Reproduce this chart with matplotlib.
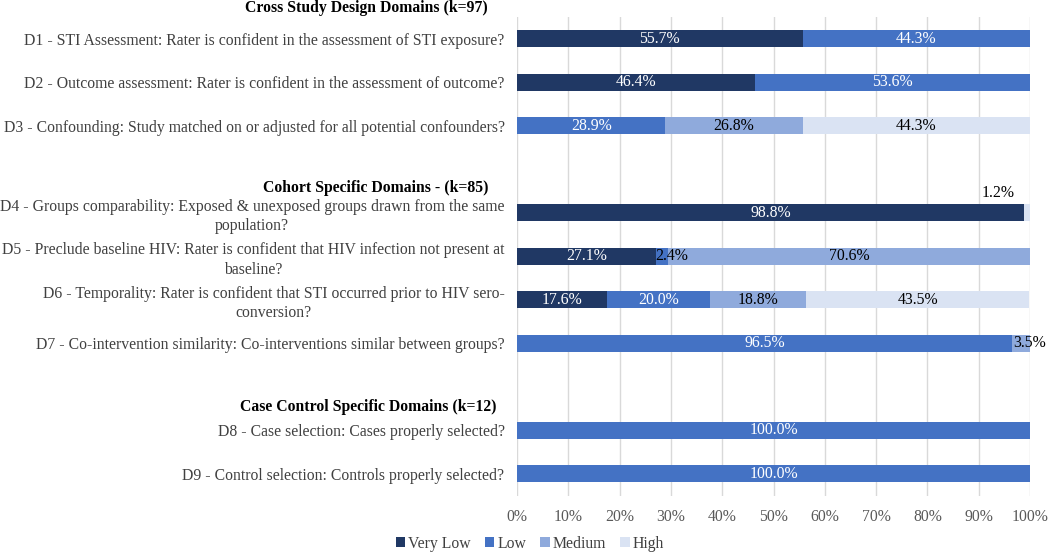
import numpy as np
import matplotlib
matplotlib.use('Agg')
import matplotlib.pyplot as plt
from matplotlib.patches import Patch
from matplotlib.ticker import PercentFormatter

plt.rcParams['font.family'] = ['Liberation Serif', 'DejaVu Serif']

# data
domains = [
    "D1 - STI Assessment: Rater is confident in the assessment of STI exposure?",
    "D2 - Outcome assessment: Rater is confident in the assessment of outcome?",
    "D3 - Confounding: Study matched on or adjusted for all potential confounders?",
    "D4 - Groups comparability: Exposed & unexposed groups drawn from the same\npopulation?",
    "D5 - Preclude baseline HIV: Rater is confident that HIV infection not present at\nbaseline?",
    "D6 - Temporality: Rater is confident that STI occurred prior to HIV sero-\nconversion?",
    "D7 - Co-intervention similarity: Co-interventions similar between groups?",
    "D8 - Case selection: Cases properly selected?",
    "D9 - Control selection: Controls properly selected?",
]
very_low = [55.7, 46.4, 0.0, 98.8, 27.1, 17.6, 0.0, 0.0, 0.0]
low = [44.3, 53.6, 28.9, 0.0, 2.4, 20.0, 96.5, 100.0, 100.0]
medium = [0.0, 0.0, 26.8, 0.0, 70.6, 18.8, 3.5, 0.0, 0.0]
high = [0.0, 0.0, 44.3, 1.2, 0.0, 43.5, 0.0, 0.0, 0.0]
levels = ['Very Low', 'Low', 'Medium', 'High']
groups = ['Cross Study Design Domains (k=97)',
          'Cohort Specific Domains - (k=85)',
          'Case Control Specific Domains (k=12)']
group_sizes = [3, 4, 2]

colors = ['#203864', '#4472C4', '#8FAADC', '#DAE3F3']
text_colors = ['white', 'white', 'black', 'black']
FS = 11.3

# row positions: one empty row between groups
ypos = []
group_start = []
r = 0
for n in group_sizes:
    group_start.append(r)
    ypos.extend(range(r, r + n))
    r += n + 1
ypos = np.array(ypos)

fig = plt.figure(figsize=(10.5, 5.53), dpi=100)
ax = fig.add_axes([517 / 1050, 1 - 495.5 / 553, 513 / 1050, 478.5 / 553])

series = [very_low, low, medium, high]
left = np.zeros(len(domains))
for k, vals in enumerate(series):
    vals = np.array(vals)
    ax.barh(ypos, vals, left=left, height=0.39, color=colors[k], label=levels[k], zorder=2)
    for i, v in enumerate(vals):
        if v <= 0:
            continue
        cx = left[i] + v / 2
        lab = f'{v:.1f}%'
        if v < 2:
            # tiny segment, label sits above the bar
            ax.annotate(lab, (cx, ypos[i]), xytext=(-21, 14), textcoords='offset points',
                        ha='center', va='center', fontsize=FS, color='black')
        elif v < 4:
            ax.annotate(lab, (cx, ypos[i]), xytext=(6.5, 0), textcoords='offset points',
                        ha='center', va='center', fontsize=FS, color='black')
        else:
            ax.text(cx, ypos[i], lab, ha='center', va='center', fontsize=FS,
                    color=text_colors[k], zorder=3)
    left += vals

ax.set_xlim(0, 100)
ax.set_ylim(r - 1 - 0.5, -0.5)
ax.set_xticks(np.arange(0, 101, 10))
ax.xaxis.set_major_formatter(PercentFormatter(decimals=0))
ax.set_yticks(ypos)
ax.set_yticklabels(domains)
for lbl in ax.get_yticklabels():
    lbl.set_multialignment('center')
    lbl.set_linespacing(1.3)
ax.tick_params(axis='y', length=0, pad=9, labelsize=FS, labelcolor='#404040')
ax.tick_params(axis='x', length=0, pad=10, labelsize=FS, labelcolor='#595959')
ax.grid(axis='x', color='#D9D9D9', linewidth=1, zorder=0)
ax.set_axisbelow(True)
for s in ax.spines.values():
    s.set_visible(False)

# group headings
head_x = [-0.0565, -0.0565, -0.039]
head_dy = [-0.71, -0.57, -0.53]
for g, title in enumerate(groups):
    ax.text(head_x[g], group_start[g] + head_dy[g], title, transform=ax.get_yaxis_transform(),
            ha='right', va='center', fontsize=FS, fontweight='bold', color='black',
            clip_on=False)

handles = [Patch(facecolor=c, label=l) for c, l in zip(colors, levels)]
fig.legend(handles=handles, loc='center', bbox_to_anchor=(530 / 1050, 1 - 544 / 553), ncol=4,
           frameon=False, fontsize=FS, labelcolor='#404040', handlelength=0.6, handleheight=0.6,
           handletextpad=0.2, columnspacing=0.9)

fig.savefig('out.png', dpi=100)
